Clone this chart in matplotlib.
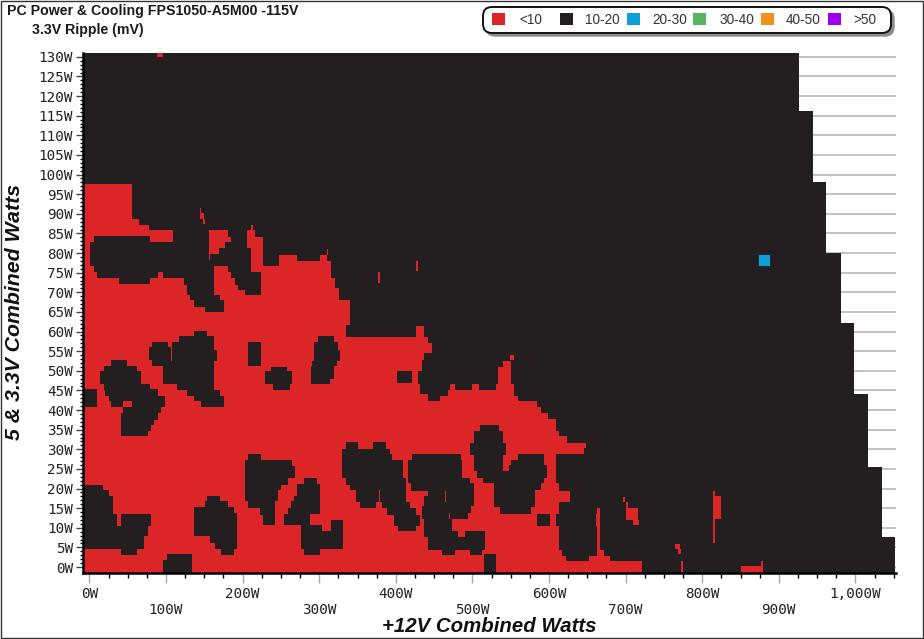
import numpy as np
import matplotlib
matplotlib.use('Agg')
import matplotlib.pyplot as plt
from matplotlib.colors import ListedColormap
from matplotlib.patches import FancyBboxPatch, Rectangle

##### all rows below are (y_lo, y_hi, x_lo, x_hi) in watts
# right edge of the measured area
envelope = [(116, 131, 925), (98, 116, 944), (80, 98, 960), (62, 80, 980),
            (44, 62, 997), (25.5, 44, 1015), (7.5, 25.5, 1033), (-2, 7.5, 1051)]

# how far the <10 zone reaches from the left, per load band
red_reach = [(88.6, 97.6, 55), (87.1, 88.6, 64), (85.7, 87.1, 77), (84, 85.7, 216),
             (76.5, 84, 226), (73.6, 76.5, 315), (71, 73.6, 320), (67.9, 71, 325),
             (61.7, 67.9, 339), (58.5, 61.7, 334), (56.9, 58.5, 441), (54.5, 56.9, 446),
             (52.8, 54.5, 436), (49.8, 52.8, 433), (46.6, 49.8, 428), (45, 46.6, 553),
             (43.4, 45, 553), (42.2, 43.4, 558), (40.7, 42.2, 584.5), (39.2, 40.7, 589),
             (37.7, 39.2, 597.5), (34.5, 37.7, 607.6), (33.2, 34.5, 612), (31.5, 33.2, 622),
             (30.2, 31.5, 647), (28.7, 30.2, 645), (21.3, 28.7, 607.6), (19.4, 21.3, 612),
             (16.6, 19.4, 626), (13.5, 16.6, 612), (10.5, 13.5, 607.6), (4.2, 10.5, 612),
             (2.8, 4.2, 616), (1.4, 2.8, 620.6), (-2, 1.4, 721)]

red_extra = [(76.5, 78, 247, 315), (78, 79.5, 247, 270), (78, 79.5, 301, 310),
             (46.6, 51, 533, 549), (51, 52.4, 539, 549), (58.5, 61.4, 426, 436),
             (1.4, 2.8, 651, 679), (2.8, 4.2, 662, 671)]

# 10-20 pockets inside the <10 zone
black_upper = [(82.7, 85.7, 108, 156), (82.7, 84.3, 6, 79), (78.2, 82.7, 0.8, 156),
               (84, 85.7, 181, 205), (82.7, 84, 184.4, 205), (81.2, 82.7, 177, 205),
               (79.8, 81.2, 168, 210.5), (78.2, 79.8, 157.4, 210.5), (76.5, 78.2, 0.8, 210.5),
               (75, 76.5, 6, 162), (75, 76.5, 180, 210.5), (73.5, 75, 9.5, 88.7),
               (73.5, 75, 95.2, 162), (73.5, 75, 184.4, 224), (72.1, 73.5, 37.8, 79),
               (71.9, 73.5, 122.6, 162), (71.9, 73.5, 190, 224), (69.3, 71.9, 127, 162),
               (70.6, 71.9, 194.4, 224), (69.3, 70.6, 203, 224), (67.9, 69.3, 131.3, 170.5),
               (66.2, 67.9, 136.5, 174.8), (64.8, 66.2, 150, 174.8)]

black_notch = [(42.2, 43.4, 441, 457), (43.4, 43.9, 441, 467), (43.9, 45, 431, 467),
               (45, 46.6, 431, 470), (45, 46.6, 477, 498), (45, 46.6, 508, 530),
               (46.8, 49.8, 401, 421)]

black_mid = [(51.2, 52.8, 27.8, 48.7), (49.8, 51.2, 18.2, 61.7), (46.6, 49.8, 13.9, 66.9),
             (45.1, 46.6, 18.2, 66), (43.6, 45.1, 19.5, 57.4), (42.1, 43.6, 24.7, 55.2),
             (40.6, 42.1, 27.8, 44.3), (45.3, 46.6, 66, 79), (43.6, 45.3, 57.4, 88.7),
             (40.6, 43.6, 55, 98), (39.2, 40.6, 44, 93), (37.5, 39.2, 40.8, 88.7),
             (36.2, 37.5, 40.8, 83.5), (34.7, 36.2, 40.8, 80), (33.2, 34.7, 40.8, 75.6),
             (40.6, 45.3, -10, 8.6),
             (56, 57.2, 81, 102), (52.8, 56, 77, 106.5), (51.2, 52.8, 81, 106.5),
             (58.7, 60.1, 136.5, 153), (57.2, 58.7, 117, 161.8), (55.3, 57.2, 107, 161.8),
             (52.3, 55.3, 107, 166), (46.6, 52.3, 95.6, 161.8), (45.1, 46.6, 114, 161.8),
             (43.6, 45.1, 127, 170.5), (42.1, 43.6, 136.5, 175), (40.6, 42.1, 145, 175),
             (51.2, 57.2, 207.4, 224),
             (49.8, 51, 237, 257), (46.6, 49.8, 229, 264), (45.1, 46.6, 239, 261),
             (57.2, 58.7, 297.5, 318), (55.3, 57.2, 292, 323.6), (52.3, 55.3, 292, 326),
             (51.2, 52.3, 290, 322.7), (47.8, 51.2, 289, 318.4), (46.6, 47.8, 289, 313)]

black_low_left = [(19.6, 20.9, -10, 17), (18.1, 19.6, -10, 24.7), (13.5, 18.1, -10, 30.4),
                  (10.5, 13.5, -10, 35.6), (10.5, 13.5, 40.8, 80), (7.8, 10.5, -10, 75.6),
                  (4.4, 7.8, -10, 71), (3.1, 4.4, 40.8, 61.7),
                  (1.6, 3.3, 100.8, 133.5), (-2, 1.6, 95.6, 133.5),
                  (16.7, 18.1, 153, 169.6), (15.2, 16.7, 150, 180), (13.7, 15.2, 136.5, 188),
                  (7.8, 13.7, 136.5, 192), (6, 7.8, 157.4, 192), (4.4, 6, 162.6, 192),
                  (3.1, 4.4, 171.3, 188)]

black_low_mid = [(27.3, 28.8, 207.4, 224), (25.6, 27.3, 203, 264), (22.6, 25.6, 203, 268.3),
                 (20.9, 22.6, 203, 257.5), (19.5, 20.9, 203, 248.8), (16.7, 19.5, 203, 245.3),
                 (15, 16.7, 207.4, 242), (13.3, 15, 222, 242), (10.6, 13.3, 226, 242),
                 (21.1, 22.6, 280.5, 296.6), (18.1, 21.1, 271, 300), (16.7, 18.1, 266, 300),
                 (15, 16.7, 262, 300), (13.5, 15, 257.5, 300), (10.6, 13.5, 253, 287),
                 (9, 10.7, 275.7, 303), (9, 12, 315, 331.4), (4.4, 9, 275.7, 331.4),
                 (3.1, 4.4, 280.5, 300)]

black_low_right = [(30.1, 31.7, 333.5, 349.6), (30.1, 31.7, 369, 385.7), (28.7, 30.1, 329, 392),
                   (27.1, 28.7, 329, 394.4), (22.6, 27.1, 329, 407.5), (20.9, 22.6, 334.4, 411.8),
                   (19.6, 20.9, 339, 411.8), (16.6, 19.6, 346.6, 377), (16.6, 19.6, 377.5, 411.8),
                   (15, 16.6, 353, 374), (15, 16.6, 381, 418), (13.3, 15, 388, 425),
                   (10.5, 13.3, 396.6, 431.4), (9, 10.5, 402, 425),
                   (27.3, 28.7, 420.5, 484.5), (22.6, 27.3, 415, 485.8), (21.3, 22.6, 415, 495.8),
                   (19.4, 21.3, 419, 501), (18.1, 19.4, 441, 462.7), (18.1, 19.4, 465.3, 501),
                   (16.6, 18.1, 436, 462.7), (16.6, 18.1, 465.3, 501), (15.4, 16.6, 436, 501),
                   (13.7, 15.4, 432.7, 496.7), (12.2, 13.7, 432.7, 468.4), (12.2, 13.7, 470.5, 494.5),
                   (9, 12.2, 436, 472.7), (7.7, 9, 436, 480.5), (7.7, 9, 490, 516),
                   (4.3, 7.7, 441, 516), (3.1, 4.3, 459.7, 475.8), (3.1, 4.3, 495.8, 512),
                   (-2, 3.2, 514, 530),
                   (34.5, 36.2, 509, 533.6), (31.5, 34.5, 501, 539), (28.5, 31.5, 496, 543),
                   (24.3, 28.5, 501, 539), (27.3, 28.7, 557.5, 593), (26, 27.3, 549, 593),
                   (24.3, 26, 546.7, 596), (22.6, 24.3, 505, 596), (21.3, 22.6, 513, 593),
                   (19.6, 21.3, 527, 589), (15.2, 19.6, 527, 580.6), (13.5, 15.2, 535, 575),
                   (10.5, 13.5, 584.5, 601)]

# lone <10 readings and slivers
red_specks = [(130, 131, 88, 96), (90.1, 91.4, 143.5, 145), (88.6, 90.1, 143.5, 149),
              (87.4, 88.6, 148, 150), (85.7, 87, 211, 213), (79.5, 81, 309, 311),
              (84, 85.7, 156, 181), (82.7, 84, 156, 184.4), (81.2, 82.7, 156, 177),
              (79.8, 81.2, 156, 168), (78.2, 79.8, 156, 157.4),
              (72.3, 75, 376, 378), (75.3, 78, 426, 428), (52.8, 54, 547.5, 554),
              (46.8, 49.8, 421, 428), (4.2, 15, 662, 665), (10.5, 13.5, 661, 665.5),
              (12, 15, 700.5, 715.3), (10.7, 12, 709, 716), (15, 16.6, 700.5, 702),
              (16.5, 17.7, 695, 698), (12.1, 18, 813, 823), (6, 19.4, 813, 815.5),
              (4.5, 5.9, 763, 770), (3.2, 4.5, 768, 770.6), (-2, 1.4, 771, 773.6),
              (-2, 0.1, 849, 877.6), (0.1, 1.4, 875.5, 878)]

# the single 20-30 reading
blue_x = [881]
blue_y = [78.3]

y_ticks = list(range(0, 131, 5))
x_ticks = list(range(0, 1001, 100))
x_labels = ['0W', '100W', '200W', '300W', '400W', '500W', '600W', '700W', '800W', '900W', '1,000W']
legend_labels = ['<10', '10-20', '20-30', '30-40', '40-50', '>50']
legend_colors = ['#DC2527', '#231F20', '#0E9FD8', '#57B55D', '#F0901E', '#9B00F0']

# 1W wide, 0.1W tall cells
x_edges = np.arange(-10, 1056, 1.0)
y_edges = np.arange(-2, 131.05, 0.1)
grid = np.full((len(y_edges) - 1, len(x_edges) - 1), np.nan)


def paint(rows, value):
    for y0, y1, x0, x1 in rows:
        r0 = int(round((y0 + 2) * 10))
        r1 = int(round((y1 + 2) * 10))
        c0 = int(round(x0 + 10))
        c1 = int(round(x1 + 10))
        grid[r0:r1, c0:c1] = value


paint([(y0, y1, -10, x1) for y0, y1, x1 in envelope], 1)
paint([(y0, y1, -10, x1) for y0, y1, x1 in red_reach], 0)
paint(red_extra, 0)
for part in [black_upper, black_notch, black_mid, black_low_left, black_low_mid, black_low_right]:
    paint(part, 1)
paint(red_specks, 0)

W, H = 924, 639
fig = plt.figure(figsize=(W / 100, H / 100), dpi=100, facecolor='white')

# overlay in pixels for frame, titles and the hand laid out legend
bg = fig.add_axes([0, 0, 1, 1], zorder=3)
bg.set_xlim(0, W)
bg.set_ylim(H, 0)
bg.axis('off')

ax = fig.add_axes([82.7 / W, 1 - 573.3 / H, (896 - 82.7) / W, (573.3 - 53.3) / H])
ax.set_xlim(-8.75, 1053)
ax.set_ylim(-1.6, 130.9)
for y in y_ticks:
    ax.axhline(y, color='#BDBDBD', lw=1.3, zorder=1)
cmap = ListedColormap([legend_colors[0], legend_colors[1]])
ax.imshow(grid, origin='lower', extent=[-10, 1055, -2, 131], cmap=cmap, vmin=0, vmax=1,
          interpolation='nearest', aspect='auto', zorder=2)
ax.scatter(blue_x, blue_y, marker='s', s=84, color=legend_colors[2],
           edgecolor=legend_colors[1], linewidth=0.6, zorder=3)
ax.set_xlim(-8.75, 1053)
ax.set_ylim(-1.6, 130.9)

for side in ['top', 'right']:
    ax.spines[side].set_visible(False)
for side in ['left', 'bottom']:
    ax.spines[side].set_linewidth(1.8)
    ax.spines[side].set_color('black')

ax.set_yticks(y_ticks)
ax.set_yticklabels(['%dW' % y for y in y_ticks], family='DejaVu Sans Mono', fontsize=10.3, color='#222222')
ax.set_yticks(np.arange(0, 131, 1), minor=True)
ax.tick_params(axis='y', which='major', length=5, width=1, color='#444444', pad=2)
ax.tick_params(axis='y', which='minor', length=2.5, width=1, color='black')

ax.set_xticks(x_ticks)
ax.set_xticklabels([('\n' if i % 2 else '') + s for i, s in enumerate(x_labels)],
                   family='DejaVu Sans Mono', fontsize=10.3, color='#222222', linespacing=1.15)
ax.set_xticks(np.arange(0, 1051, 25), minor=True)
ax.tick_params(axis='x', which='major', length=7, width=1, color='#AAAAAA', pad=3)
ax.tick_params(axis='x', which='minor', length=3.5, width=1, color='black')

bg.text(7, 10.5, 'PC Power & Cooling FPS1050-A5M00 -115V', family='Liberation Sans', fontweight='bold',
        fontsize=10.2, va='center', color='#1A1A1A')
bg.text(32, 30, '3.3V Ripple (mV)', family='Liberation Sans', fontweight='bold',
        fontsize=10.2, va='center', color='#1A1A1A')
bg.text(489, 626, '+12V Combined Watts', family='Liberation Sans', fontweight='bold', style='italic',
        fontsize=14.7, ha='center', va='center', color='#111111')
bg.text(15, 312, '5 & 3.3V Combined Watts', family='Liberation Sans', fontweight='bold', style='italic',
        fontsize=15.3, ha='center', va='center', rotation=90, color='#111111')

# legend
bg.add_patch(FancyBboxPatch((486, 10), 408, 26, boxstyle='round,pad=0,rounding_size=9',
                            fc='#8C8C8C', ec='#8C8C8C', lw=1, zorder=1))
bg.add_patch(FancyBboxPatch((483, 7), 408, 26, boxstyle='round,pad=0,rounding_size=9',
                            fc='white', ec='#111111', lw=1.4, zorder=2))
square_x = [492, 560, 627, 693, 761, 828]
text_x = [519, 585, 652, 719, 786, 853]
for sx, tx, lab, col in zip(square_x, text_x, legend_labels, legend_colors):
    bg.add_patch(Rectangle((sx, 12.7), 12.7, 12.7, fc=col, ec='none', zorder=3))
    bg.text(tx, 20.5, lab, family='Liberation Sans', fontsize=9.8, va='center', color='#333333', zorder=3)

# picture border
bg.add_patch(Rectangle((0.5, 0.5), W - 2, H - 2, fc='none', ec='#333333', lw=1, zorder=4))

fig.savefig('out.png', dpi=100)
